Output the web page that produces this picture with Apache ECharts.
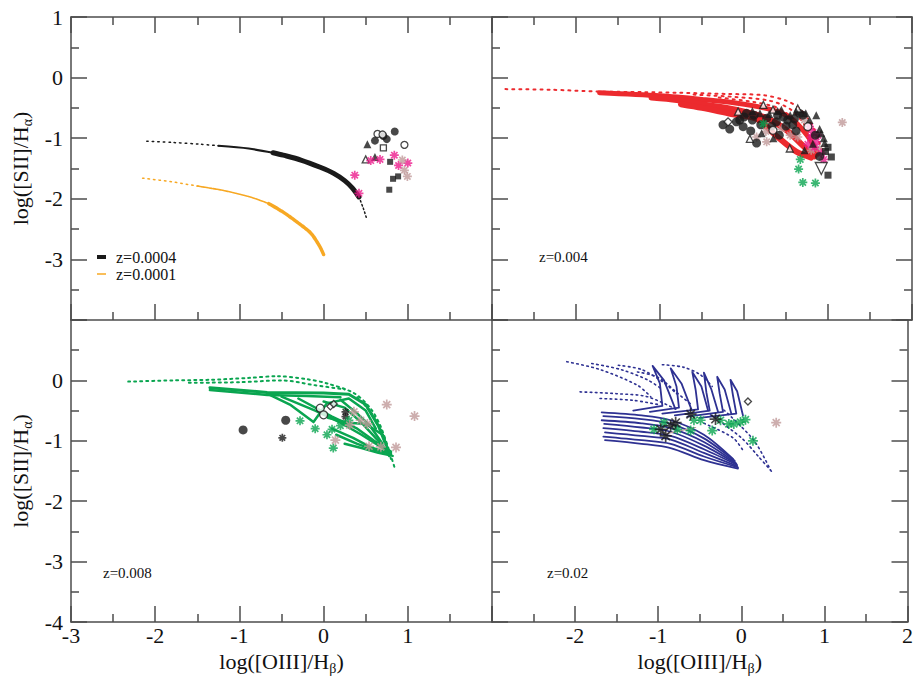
<!DOCTYPE html>
<html>
<head>
<meta charset="utf-8">
<script src="https://cdn.jsdelivr.net/npm/echarts@6/dist/echarts.min.js"></script>
<style>
  html, body { margin: 0; padding: 0; background: #fff; }
  #chart { width: 916px; height: 679px; }
</style>
</head>
<body>
<div id="chart"></div>
<script>
// ---- panel 1 (z=0.0004 / z=0.0001 tracks) ----
var z0004Sparse = [[-2.10,-1.05],[-1.80,-1.07],[-1.46,-1.10],[-1.20,-1.13]];
var z0004Thin = [[-1.25,-1.125],[-0.89,-1.17],[-0.60,-1.24]];
var z0004Thick = [[-0.60,-1.24],[-0.48,-1.28],[-0.27,-1.36],[-0.04,-1.48],[0.12,-1.58],[0.25,-1.70],[0.34,-1.82],[0.42,-1.97]];
var z0004Tail = [[0.42,-1.97],[0.47,-2.15],[0.51,-2.32]];
var z0001Sparse = [[-2.15,-1.66],[-1.80,-1.72],[-1.46,-1.80]];
var z0001Thin = [[-1.50,-1.79],[-1.20,-1.86],[-0.87,-1.97],[-0.65,-2.08]];
var z0001Thick = [[-0.65,-2.08],[-0.48,-2.22],[-0.30,-2.40],[-0.15,-2.57],[-0.04,-2.80],[0.00,-2.92]];

var p1FilledCircle = [[0.845,-0.89],[0.61,-1.04],[0.75,-1.015],[0.71,-0.965]];
var p1OpenCircle = [[0.64,-0.93],[0.70,-0.94],[0.96,-1.11]];
var p1FilledTri = [[0.52,-1.10],[0.61,-1.31]];
var p1OpenTri = [[0.50,-1.35]];
var p1OpenSquare = [[0.71,-1.16]];
var p1FilledSquare = [[0.79,-1.39],[0.825,-1.67],[0.885,-1.63],[0.78,-1.85]];
var p1Magenta = [[0.37,-1.61],[0.42,-1.91],[0.56,-1.37],[0.67,-1.35],[0.84,-1.28],[0.89,-1.45],[1.00,-1.41]];
var p1Rosy = [[0.935,-1.36],[0.96,-1.53],[0.995,-1.63]];

// ---- panel 2 (z=0.004, red grid) ----
var redDotsTop = [[-2.84,-0.19],[-2.30,-0.20],[-1.72,-0.23],[-1.20,-0.24],[-0.77,-0.25],[-0.20,-0.27],[0.23,-0.29],[0.50,-0.38],[0.66,-0.51],[0.82,-0.81],[0.94,-1.25]];
var redDotsMid = [[-0.60,-0.28],[-0.10,-0.32],[0.30,-0.38],[0.55,-0.52],[0.72,-0.78],[0.88,-1.20]];
var redDotsLow = [[-0.30,-0.33],[0.10,-0.40],[0.40,-0.50],[0.62,-0.72],[0.80,-1.05]];
var redBandA = [[-1.72,-0.25],[-1.00,-0.30],[-0.50,-0.36],[-0.10,-0.42],[0.30,-0.52],[0.55,-0.66],[0.75,-0.95],[0.88,-1.25]];
var redBandB = [[-1.10,-0.33],[-0.80,-0.37],[-0.50,-0.44],[-0.10,-0.53],[0.25,-0.66],[0.50,-0.86],[0.70,-1.12],[0.84,-1.30]];
var redBandC = [[-0.75,-0.44],[-0.50,-0.50],[-0.15,-0.60],[0.15,-0.68],[0.40,-0.98],[0.62,-1.22],[0.80,-1.32]];

var p2FilledCircle = [[-0.17,-0.85],[-0.01,-0.81],[-0.09,-0.73],[0.03,-0.59],[0.15,-1.08],[0.27,-0.67],[0.385,-0.73],[0.58,-0.78],[0.66,-0.59],[0.47,-0.65],[-0.25,-0.78],[0.10,-0.70],[0.33,-0.80],[0.52,-0.70],[0.00,-0.65],[0.12,-0.62],[0.20,-0.78],[0.40,-0.62],[0.50,-0.80],[0.60,-0.68],[0.70,-0.62],[0.42,-0.95],[0.08,-0.88],[-0.05,-0.70],[0.62,-0.88],[0.85,-0.95],[0.90,-1.30]];
var p2OpenTri = [[-0.07,-0.56],[0.07,-1.01],[0.545,-1.17],[0.23,-0.45],[0.345,-0.53],[0.64,-0.51]];
var p2FilledTri = [[0.21,-0.92],[0.19,-0.59],[0.445,-0.53],[0.735,-0.59],[0.72,-1.20],[0.82,-1.09],[0.78,-0.70],[0.90,-0.85],[0.95,-1.00],[0.55,-0.62],[0.30,-0.60],[0.10,-0.55],[0.40,-0.55],[0.62,-0.56],[0.86,-0.62],[0.92,-0.92],[0.35,-1.00],[0.96,-1.08]];
var p2OpenDiamond = [[-0.19,-0.73]];
var p2OpenCircle = [[0.345,-0.87],[0.76,-0.81]];
var p2FilledSquare = [[1.00,-1.15],[1.04,-1.31],[1.00,-1.61],[0.97,-1.22]];
var p2OpenDownTri = [[0.92,-1.50]];
var p2Rosy = [[1.17,-0.74],[0.27,-1.06],[0.26,-0.89],[0.64,-0.98],[0.72,-0.70],[0.90,-1.17],[0.15,-0.98],[0.55,-0.95],[0.80,-1.20],[0.45,-0.85]];
var p2Magenta = [[0.80,-0.98],[0.78,-0.81],[0.92,-1.25],[0.86,-1.06],[0.84,-1.15],[0.82,-0.90],[0.76,-1.10],[0.88,-0.95],[0.95,-1.35]];
var p2Green = [[0.67,-1.35],[0.65,-1.51],[0.70,-1.73],[0.85,-1.74],[0.23,-0.76]];

// ---- panel 3 (z=0.008, green grid) ----
var greenDotsTop = [[-2.32,-0.02],[-1.80,0.00],[-1.35,0.01],[-0.90,0.04],[-0.55,0.07],[-0.20,0.02],[0.04,-0.05],[0.36,-0.21],[0.55,-0.45],[0.68,-0.77],[0.84,-1.43]];
var greenDotsMid = [[-1.60,-0.04],[-1.00,-0.03],[-0.50,0.00],[-0.10,-0.08],[0.25,-0.15]];
var greenDotsRight = [[0.40,-0.28],[0.60,-0.60],[0.72,-0.95],[0.80,-1.30]];
var greenG1 = [[-1.35,-0.12],[-0.67,-0.20],[0.00,-0.21],[0.30,-0.23],[0.50,-0.40],[0.65,-0.75],[0.75,-1.10]];
var greenG2 = [[-0.67,-0.22],[-0.40,-0.40],[-0.12,-0.69],[0.04,-0.38],[0.30,-0.30],[0.50,-0.50],[0.62,-0.80]];
var greenG3 = [[-0.50,-0.27],[-0.10,-0.50],[0.20,-0.70],[0.45,-0.90],[0.70,-1.12],[0.80,-1.20]];
var greenG4 = [[-0.30,-0.30],[0.10,-0.60],[0.40,-0.80],[0.60,-1.00],[0.80,-1.18]];
var greenG5 = [[0.10,-0.80],[0.35,-0.95],[0.55,-1.10],[0.80,-1.22]];
var greenG6 = [[0.20,-0.32],[0.40,-0.55],[0.55,-0.75],[0.70,-1.05]];
var greenG7 = [[0.05,-0.62],[0.30,-0.70],[0.50,-0.72],[0.70,-0.90]];
var greenG8 = [[0.15,-0.90],[0.40,-1.05],[0.60,-1.15],[0.75,-1.20]];
var greenG9 = [[-1.35,-0.16],[-0.67,-0.24],[-0.20,-0.26],[0.20,-0.28]];
var greenG10 = [[0.00,-0.35],[0.25,-0.45],[0.45,-0.70],[0.65,-1.00],[0.78,-1.25]];
var greenG11 = [[0.25,-1.05],[0.45,-1.12],[0.65,-1.20],[0.82,-1.25]];

var p3FilledCircle = [[-0.956,-0.82],[-0.45,-0.66]];
var p3Black = [[-0.49,-0.95],[0.26,-0.52],[0.26,-0.60]];
var p3OpenCircle = [[-0.04,-0.46],[0.00,-0.57]];
var p3OpenDiamond = [[0.08,-0.43],[0.12,-0.39]];
var p3Green = [[-0.28,-0.67],[-0.10,-0.80],[0.04,-0.90],[0.115,-1.12],[0.10,-0.81],[0.30,-0.66],[0.20,-0.75]];
var p3Rosy = [[0.75,-0.40],[1.08,-0.59],[0.36,-0.52],[0.44,-0.66],[0.52,-0.72],[0.31,-0.74],[0.14,-0.99],[0.54,-1.09],[0.68,-1.10],[0.86,-1.11]];

// ---- panel 4 (z=0.02, blue grid) ----
var blueB1 = [[-1.68,-0.53],[-1.20,-0.58],[-0.85,-0.66],[-0.45,-0.90],[-0.10,-1.30]];
var blueB2 = [[-1.66,-0.59],[-1.20,-0.64],[-0.85,-0.72],[-0.45,-0.96],[-0.08,-1.33]];
var blueB3 = [[-1.68,-0.66],[-1.20,-0.71],[-0.85,-0.79],[-0.45,-1.02],[-0.07,-1.36]];
var blueB4 = [[-1.65,-0.72],[-1.20,-0.78],[-0.85,-0.85],[-0.45,-1.08],[-0.06,-1.38]];
var blueB5 = [[-1.66,-0.79],[-1.20,-0.85],[-0.85,-0.92],[-0.45,-1.14],[-0.05,-1.40]];
var blueB6 = [[-1.64,-0.86],[-1.20,-0.92],[-0.85,-0.98],[-0.45,-1.20],[-0.05,-1.42]];
var blueB7 = [[-1.66,-0.93],[-1.20,-0.99],[-0.85,-1.05],[-0.45,-1.26],[-0.04,-1.44]];
var blueB8 = [[-1.64,-0.99],[-1.20,-1.05],[-0.85,-1.12],[-0.45,-1.32],[-0.04,-1.46]];
var blueC1 = [[-1.30,-0.50],[-0.95,-0.42],[-0.98,-0.05],[-1.067,0.24],[-0.93,0.00],[-0.80,-0.45]];
var blueC2 = [[-1.10,-0.52],[-0.75,-0.45],[-0.78,-0.10],[-0.85,0.20],[-0.72,-0.05],[-0.60,-0.48]];
var blueC3 = [[-0.95,-0.55],[-0.52,-0.48],[-0.55,-0.15],[-0.59,0.14],[-0.48,-0.10],[-0.40,-0.50]];
var blueC4 = [[-0.80,-0.58],[-0.38,-0.50],[-0.42,-0.20],[-0.45,0.13],[-0.36,-0.15],[-0.28,-0.52]];
var blueC5 = [[-0.65,-0.60],[-0.22,-0.52],[-0.26,-0.22],[-0.29,0.06],[-0.20,-0.15],[-0.12,-0.55]];
var blueC6 = [[-0.50,-0.62],[-0.06,-0.55],[-0.10,-0.25],[-0.13,0.01],[-0.05,-0.18],[0.02,-0.58]];
var blueD1 = [[-2.10,0.31],[-1.70,0.18],[-1.25,-0.08],[-1.09,-0.27]];
var blueD2 = [[-1.80,0.28],[-1.45,0.18],[-1.13,0.01],[-0.95,-0.15]];
var blueD3 = [[-1.48,0.25],[-1.20,0.18],[-0.93,-0.04],[-0.78,-0.22]];
var blueD4 = [[-1.25,0.14],[-1.00,0.05],[-0.77,-0.21],[-0.60,-0.40]];
var blueD5 = [[-1.94,-0.19],[-1.50,-0.22],[-1.13,-0.27],[-0.77,-0.49]];
var blueD6 = [[-1.70,-0.30],[-1.30,-0.33],[-1.00,-0.40]];
var blueD7 = [[-0.37,-0.57],[0.00,-0.95],[0.20,-1.25],[0.385,-1.54]];
var blueD8 = [[-0.21,-0.49],[0.15,-0.99],[0.35,-1.48]];
var blueD9 = [[-0.45,-0.71],[-0.10,-0.95],[0.03,-1.18]];
var blueD10 = [[-0.95,0.26],[-0.70,0.22],[-0.50,0.10],[-0.35,-0.10]];

var p4Black = [[-0.79,-0.70],[-0.91,-0.92],[-0.97,-0.81],[-0.61,-0.56],[-0.31,-0.64],[-0.85,-0.75]];
var p4Green = [[-1.05,-0.81],[-0.93,-0.70],[-0.77,-0.81],[-0.61,-0.83],[-0.49,-0.66],[-0.35,-0.83],[-0.25,-0.66],[-0.15,-0.72],[-0.09,-0.72],[-0.01,-0.69],[0.05,-0.65],[0.14,-1.00],[-0.57,-0.66]];
var p4Rosy = [[0.42,-0.70]];
var p4OpenDiamond = [[0.08,-0.35]];
var p4RosyLine = [[-0.90,-0.88],[-0.55,-0.78]];

var zLabels = ['z=0.004', 'z=0.008', 'z=0.02'];

// colours
var BLACK = '#1a1a1a', ORANGE = '#f7a823', MAGENTA = '#ec1c8c', ROSY = '#c09a9a',
    GREEN = '#0aa550', RED = '#ec2a2e', BLUE = '#2e3192', AXIS = '#4d4d4d';
var FONT = 'Liberation Serif';
var STAR = 'path://M5 0L5 10M0 5L10 5M1.5 1.5L8.5 8.5M1.5 8.5L8.5 1.5';

function curve(g, data, color, width, dash, name, smooth) {
    return {
        type: 'line', name: name, xAxisIndex: g, yAxisIndex: g, data: data,
        symbol: 'none', showSymbol: false, smooth: smooth === undefined ? 0.3 : smooth,
        lineStyle: { color: color, width: width, type: dash || 'solid', cap: 'round', join: 'round' },
        itemStyle: { color: color }, z: 2, silent: true
    };
}

function pts(g, data, symbol, size, color, open, rotate) {
    var st;
    if (open) {
        st = { color: '#fff', borderColor: color, borderWidth: 1.3 };
    } else if (symbol === STAR) {
        st = { color: color, borderColor: color, borderWidth: 1.7 };
    } else {
        st = { color: color, borderWidth: 0 };
    }
    return {
        type: 'scatter', xAxisIndex: g, yAxisIndex: g, data: data,
        symbol: symbol, symbolSize: size, symbolRotate: rotate || 0,
        itemStyle: st, z: 5, silent: true
    };
}

var grids = [
    { left: 71, top: 17, width: 421, height: 303 },
    { left: 492, top: 17, width: 420, height: 303 },
    { left: 71, top: 320, width: 421, height: 302 },
    { left: 492, top: 320, width: 420, height: 302 }
];

var lineSt = { color: AXIS, width: 1.5 };
var nameRich = {
    a: { fontFamily: FONT, fontSize: 22, lineHeight: 28, color: '#111' },
    s: { fontFamily: FONT, fontSize: 14, lineHeight: 14, verticalAlign: 'bottom', color: '#111' }
};

function xAx(g, pos, labels, hideMin, hideMax, name) {
    return {
        type: 'value', gridIndex: g, position: pos, min: -3, max: 2, interval: 1,
        axisLine: { show: true, onZero: false, lineStyle: lineSt },
        axisTick: { show: true, inside: true, length: 16, lineStyle: lineSt },
        minorTick: { show: true, splitNumber: 2, length: 8, lineStyle: lineSt },
        splitLine: { show: false },
        axisLabel: {
            show: labels, fontFamily: FONT, fontSize: 22, color: '#111', margin: 2,
            showMinLabel: !hideMin, showMaxLabel: !hideMax
        },
        name: name || '', nameLocation: 'middle', nameGap: 25,
        nameTextStyle: { fontFamily: FONT, color: '#111', rich: nameRich }
    };
}

function yAx(g, pos, labels, hideMin, hideMax, name) {
    return {
        type: 'value', gridIndex: g, position: pos, min: -4, max: 1, interval: 1,
        axisLine: { show: true, onZero: false, lineStyle: lineSt },
        axisTick: { show: true, inside: true, length: 16, lineStyle: lineSt },
        minorTick: { show: true, splitNumber: 2, length: 8, lineStyle: lineSt },
        splitLine: { show: false },
        axisLabel: {
            show: labels, fontFamily: FONT, fontSize: 22, color: '#111', margin: 8,
            showMinLabel: !hideMin, showMaxLabel: !hideMax
        },
        name: name || '', nameLocation: 'middle', nameGap: 37, nameRotate: 90,
        nameTextStyle: { fontFamily: FONT, color: '#111', rich: nameRich }
    };
}

var xName = '{a|log([OIII]/H}{s|β}{a|)}';
var yName = '{a|log([SII]/H}{s|α}{a|)}';

var series = [
    // panel 1
    curve(0, z0004Sparse, BLACK, 1.5, [1.5, 4], 'z=0.0004'),
    curve(0, z0004Thin, BLACK, 2.2, 'solid', 'z=0.0004'),
    curve(0, z0004Thick, BLACK, 5, 'solid', 'z=0.0004'),
    curve(0, z0004Tail, BLACK, 1.5, [1.5, 2.5], 'z=0.0004'),
    curve(0, z0001Sparse, ORANGE, 1.5, [1.5, 4], 'z=0.0001'),
    curve(0, z0001Thin, ORANGE, 1.6, [3, 1], 'z=0.0001'),
    curve(0, z0001Thick, ORANGE, 3.5, [3, 1], 'z=0.0001'),
    pts(0, p1FilledCircle, 'circle', 8, BLACK),
    pts(0, p1OpenCircle, 'circle', 7, BLACK, true),
    pts(0, p1FilledTri, 'triangle', 8, BLACK),
    pts(0, p1OpenTri, 'triangle', 7, BLACK, true),
    pts(0, p1OpenSquare, 'rect', 6, BLACK, true),
    pts(0, p1FilledSquare, 'rect', 6, BLACK),
    pts(0, p1Magenta, STAR, 9, MAGENTA),
    pts(0, p1Rosy, STAR, 9, ROSY),

    // panel 2
    curve(1, redDotsTop, RED, 2, [2, 5]),
    curve(1, redDotsMid, RED, 2, [2, 5]),
    curve(1, redDotsLow, RED, 2, [2, 5]),
    curve(1, redBandA, RED, 5, 'solid'),
    curve(1, redBandB, RED, 6, 'solid'),
    curve(1, redBandC, RED, 6, 'solid'),
    pts(1, p2Rosy, STAR, 9, ROSY),
    pts(1, p2Magenta, STAR, 9, MAGENTA),
    pts(1, p2FilledCircle, 'circle', 9, BLACK),
    pts(1, p2OpenTri, 'triangle', 7, BLACK, true),
    pts(1, p2FilledTri, 'triangle', 8, BLACK),
    pts(1, p2OpenDiamond, 'diamond', 8, BLACK, true),
    pts(1, p2OpenCircle, 'circle', 8, BLACK, true),
    pts(1, p2FilledSquare, 'rect', 7, BLACK),
    pts(1, p2OpenDownTri, 'triangle', 12, BLACK, true, 180),
    pts(1, p2Green, STAR, 9, GREEN),

    // panel 3
    curve(2, greenDotsTop, GREEN, 2, [2, 4]),
    curve(2, greenDotsMid, GREEN, 2, [2, 4]),
    curve(2, greenDotsRight, GREEN, 2, [2, 3]),
    curve(2, greenG1, GREEN, 3, 'solid', null, false),
    curve(2, greenG9, GREEN, 2.5, 'solid', null, false),
    curve(2, greenG2, GREEN, 2.5, 'solid', null, false),
    curve(2, greenG3, GREEN, 2.5, 'solid', null, false),
    curve(2, greenG4, GREEN, 2.5, 'solid', null, false),
    curve(2, greenG5, GREEN, 2.5, 'solid', null, false),
    curve(2, greenG6, GREEN, 2.5, 'solid', null, false),
    curve(2, greenG7, GREEN, 2.5, 'solid', null, false),
    curve(2, greenG8, GREEN, 2.5, 'solid', null, false),
    curve(2, greenG10, GREEN, 2.5, 'solid', null, false),
    curve(2, greenG11, GREEN, 2.5, 'solid', null, false),
    pts(2, p3FilledCircle, 'circle', 9, BLACK),
    pts(2, p3Black, STAR, 8, BLACK),
    pts(2, p3OpenCircle, 'circle', 8, BLACK, true),
    pts(2, p3OpenDiamond, 'diamond', 7, BLACK, true),
    pts(2, p3Green, STAR, 9, GREEN),
    pts(2, p3Rosy, STAR, 10, ROSY),

    // panel 4
    curve(3, blueD1, BLUE, 1.6, [1.6, 3.5]),
    curve(3, blueD2, BLUE, 1.6, [1.6, 3.5]),
    curve(3, blueD3, BLUE, 1.6, [1.6, 3.5]),
    curve(3, blueD4, BLUE, 1.6, [1.6, 3.5]),
    curve(3, blueD5, BLUE, 1.6, [1.6, 3.5]),
    curve(3, blueD6, BLUE, 1.6, [1.6, 3.5]),
    curve(3, blueD7, BLUE, 1.6, [1.6, 3.5]),
    curve(3, blueD8, BLUE, 1.6, [1.6, 3.5]),
    curve(3, blueD9, BLUE, 1.6, [1.6, 3.5]),
    curve(3, blueD10, BLUE, 1.6, [1.6, 3.5]),
    curve(3, blueB1, BLUE, 1.8, 'solid'),
    curve(3, blueB2, BLUE, 1.8, 'solid'),
    curve(3, blueB3, BLUE, 1.8, 'solid'),
    curve(3, blueB4, BLUE, 1.8, 'solid'),
    curve(3, blueB5, BLUE, 1.8, 'solid'),
    curve(3, blueB6, BLUE, 1.8, 'solid'),
    curve(3, blueB7, BLUE, 1.8, 'solid'),
    curve(3, blueB8, BLUE, 1.8, 'solid'),
    curve(3, blueC1, BLUE, 1.8, 'solid', null, false),
    curve(3, blueC2, BLUE, 1.8, 'solid', null, false),
    curve(3, blueC3, BLUE, 1.8, 'solid', null, false),
    curve(3, blueC4, BLUE, 1.8, 'solid', null, false),
    curve(3, blueC5, BLUE, 1.8, 'solid', null, false),
    curve(3, blueC6, BLUE, 1.8, 'solid', null, false),
    pts(3, p4Green, STAR, 10, GREEN),
    pts(3, p4Black, STAR, 12, BLACK),
    curve(3, p4RosyLine, ROSY, 1.2, 'solid', null, false),
    pts(3, p4Rosy, STAR, 10, ROSY),
    pts(3, p4OpenDiamond, 'diamond', 7, BLACK, true)
];
series.forEach(function(s) { s.z = s.type === 'scatter' ? 5 : 2; });

var legendText = { fontFamily: FONT, fontSize: 16, color: '#111', padding: [0, 0, 0, 5] };
var zText = { fontFamily: FONT, fontSize: 15, fontWeight: 'normal', color: '#111' };

var option = {
    animation: false,
    backgroundColor: '#fff',
    grid: grids,
    xAxis: [
        xAx(0, 'bottom', false), xAx(1, 'bottom', false),
        xAx(2, 'bottom', true, false, true, xName), xAx(3, 'bottom', true, true, false, xName),
        xAx(0, 'top', false), xAx(1, 'top', false)
    ],
    yAxis: [
        yAx(0, 'left', true, true, false, yName), yAx(1, 'left', false),
        yAx(2, 'left', true, false, true, yName), yAx(3, 'left', false),
        yAx(1, 'right', false), yAx(3, 'right', false)
    ],
    legend: [
        { data: ['z=0.0004'], left: 97, top: 249, padding: 0, icon: 'rect', itemWidth: 9, itemHeight: 4,
          selectedMode: false, textStyle: legendText },
        { data: ['z=0.0001'], left: 97, top: 266, padding: 0, icon: 'rect', itemWidth: 9, itemHeight: 1.5,
          selectedMode: false, textStyle: legendText }
    ],
    title: [
        { text: zLabels[0], left: 539, top: 249, padding: 0, textStyle: zText },
        { text: zLabels[1], left: 103, top: 565, padding: 0, textStyle: zText },
        { text: zLabels[2], left: 547, top: 565, padding: 0, textStyle: zText }
    ],
    series: series
};

var chart = echarts.init(document.getElementById('chart'), null, { renderer: 'svg' });
chart.setOption(option);
</script>
</body>
</html>
